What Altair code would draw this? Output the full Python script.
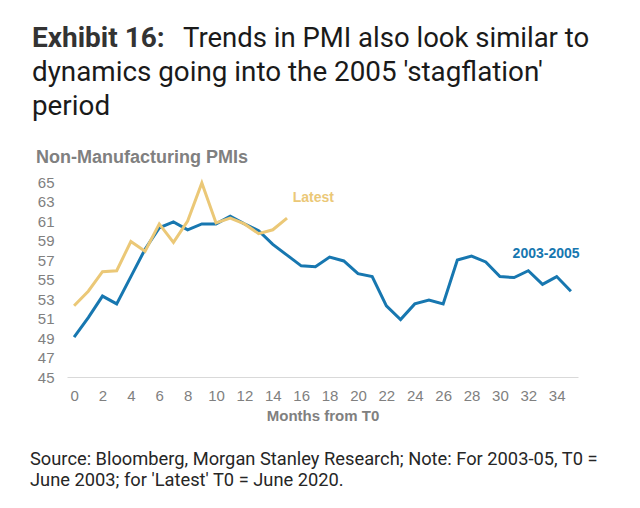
import altair as alt
import pandas as pd

# ---- data ----
SERIES_0305 = "2003-2005"
SERIES_LATEST = "Latest"
MONTHS_0305 = list(range(36))
PMI_0305 = [49.1, 51.1, 53.3, 52.5, 55.3, 58.1, 60.3, 60.9, 60.1, 60.7, 60.7, 61.5,
            60.7, 60.0, 58.6, 57.5, 56.4, 56.3, 57.3, 56.9, 55.6, 55.3, 52.3, 50.9,
            52.5, 52.9, 52.5, 57.0, 57.4, 56.8, 55.3, 55.2, 55.9, 54.5, 55.3, 53.8]
MONTHS_LATEST = list(range(16))
PMI_LATEST = [52.3, 53.8, 55.8, 55.9, 58.9, 57.9, 60.7, 58.8, 61.0, 64.9, 60.8, 61.3,
              60.7, 59.7, 60.1, 61.3]
X_TICKS = list(range(0, 35, 2))
Y_TICKS = list(range(45, 66, 2))
LABEL_SERIES = [SERIES_LATEST, SERIES_0305]
LABEL_X = [16.85, 33.25]
LABEL_Y = [63.35, 57.6]

TITLE_BOLD = "Exhibit 16:"
TITLE_LINE1 = "Trends in PMI also look similar to"
TITLE_REST = ["dynamics going into the 2005 'stagflation'", "period"]
SUBTITLE = "Non-Manufacturing PMIs"
X_TITLE = "Months from T0"
SOURCE = ["Source: Bloomberg, Morgan Stanley Research; Note: For 2003-05, T0 =",
          "June 2003; for 'Latest' T0 = June 2020."]

BLUE = "#1777b0"
GOLD = "#ebc877"
GRAY = "#808080"

df = pd.concat([
    pd.DataFrame({"month": MONTHS_0305, "pmi": PMI_0305, "series": SERIES_0305}),
    pd.DataFrame({"month": MONTHS_LATEST, "pmi": PMI_LATEST, "series": SERIES_LATEST}),
])
labels = pd.DataFrame({"series": LABEL_SERIES, "month": LABEL_X, "pmi": LABEL_Y})

color_scale = alt.Scale(domain=[SERIES_0305, SERIES_LATEST], range=[BLUE, GOLD])
x_scale = alt.Scale(domain=[-0.5, 35.5], nice=False, zero=False)
y_scale = alt.Scale(domain=[45, 65], nice=False, zero=False)

lines = alt.Chart(df).mark_line(strokeWidth=3, strokeJoin="miter").encode(
    x=alt.X("month:Q", scale=x_scale,
            axis=alt.Axis(values=X_TICKS, tickCount=60, format="d", title=X_TITLE, grid=False,
                          ticks=False, tickSize=0, domainColor="#d9d9d9", domainWidth=1,
                          labelOverlap=False, labelColor=GRAY, labelFont="Liberation Sans",
                          labelFontSize=15, labelPadding=11,
                          titleColor=GRAY, titleFont="Liberation Sans", titleFontSize=15,
                          titleFontWeight="bold", titlePadding=5)),
    y=alt.Y("pmi:Q", scale=y_scale,
            axis=alt.Axis(values=Y_TICKS, tickCount=40, format="d", title=None, grid=False,
                          ticks=False, tickSize=0, domain=False, labelOverlap=False,
                          labelColor=GRAY, labelFont="Liberation Sans", labelFontSize=15,
                          labelPadding=13)),
    color=alt.Color("series:N", scale=color_scale, legend=None),
    order=alt.Order("series:N", sort="ascending"),
    detail="series:N",
)

series_labels = alt.Chart(labels).mark_text(
    font="Liberation Sans", fontSize=14, fontWeight="bold", align="center", baseline="middle"
).encode(
    x=alt.X("month:Q", scale=x_scale),
    y=alt.Y("pmi:Q", scale=y_scale),
    text="series:N",
    color=alt.Color("series:N", scale=color_scale, legend=None),
)


def text_layer(txt, x, y, **kw):
    return alt.Chart(pd.DataFrame({"t": [txt]})).mark_text(
        align="left", baseline="alphabetic", **kw
    ).encode(text="t:N", x=alt.value(x), y=alt.value(y))


ox, oy = 59, 174  # plot origin within svg (page minus 8px margin)


def rx(page_x):
    return page_x - 8 - ox


def ry(page_y):
    return page_y - 8 - oy


header = [
    text_layer(TITLE_BOLD, rx(32), ry(47), font="Roboto", fontSize=28, fontWeight="bold", color="#333333"),
    text_layer(TITLE_LINE1, rx(183), ry(47), font="Roboto", fontSize=27.5, color="#1a1a1a"),
    text_layer(TITLE_REST[0], rx(32), ry(81), font="Roboto", fontSize=27.8, color="#1a1a1a"),
    text_layer(TITLE_REST[1], rx(32), ry(115), font="Roboto", fontSize=27.8, color="#1a1a1a"),
    text_layer(SUBTITLE, rx(36), ry(162.5), font="Liberation Sans", fontSize=18, fontWeight="bold", color=GRAY),
    text_layer(SOURCE[0], rx(30), ry(465), font="Roboto", fontSize=18.3, color="#262626"),
    text_layer(SOURCE[1], rx(30), ry(486), font="Roboto", fontSize=18.3, color="#262626"),
]

chart = alt.layer(lines, series_labels, *header).properties(
    width=511, height=195,
    autosize=alt.AutoSizeParams(type="none"),
    padding={"left": ox, "top": oy, "right": 54, "bottom": 123},
    background="white",
).configure_view(stroke=None)

chart.save("out.html", embed_options={"renderer": "svg", "actions": False})
